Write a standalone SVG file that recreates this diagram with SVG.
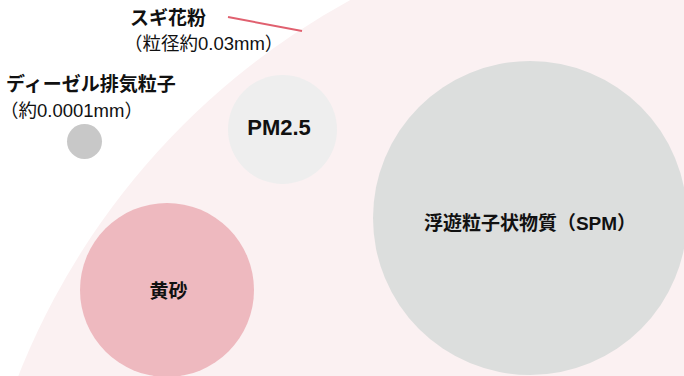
<svg xmlns="http://www.w3.org/2000/svg" width="684" height="376" viewBox="0 0 684 376">
<style>
.t{font-family:"Liberation Sans","Noto Sans CJK JP",sans-serif;fill:#111}
.h{font-size:19px;font-weight:bold}
.s{font-size:18.5px}
.c{font-size:19px;font-weight:bold;text-anchor:middle}
</style>
<rect width="684" height="376" fill="#ffffff"/>
<circle cx="703" cy="646" r="736" fill="#fbf1f2"/>
<g id="connectors">
<line x1="228" y1="17" x2="302" y2="31" stroke="#e0606f" stroke-width="2"/>
</g>
<g id="diesel">
<circle cx="84.5" cy="141.5" r="17.5" fill="#c8c8c8"/>
<text class="t h" x="6" y="91">ディーゼル排気粒子</text>
<text class="t s" x="0" y="117">（約0.0001mm）</text>
</g>
<g id="sugi">
<text class="t h" x="130" y="25">スギ花粉</text>
<text class="t s" x="124" y="50">（粒径約0.03mm）</text>
</g>
<g id="pm25">
<circle cx="282.5" cy="129.5" r="54.5" fill="#eeeeee"/>
<text class="t c" x="279" y="135" style="font-size:22px">PM2.5</text>
</g>
<g id="kosa">
<circle cx="167" cy="290" r="87" fill="#eeb9bf"/>
<text class="t c" x="168.5" y="298">黄砂</text>
</g>
<g id="spm">
<circle cx="530" cy="218" r="157" fill="#dcdedd"/>
<text class="t c" x="530" y="230">浮遊粒子状物質（SPM）</text>
</g>
</svg>
